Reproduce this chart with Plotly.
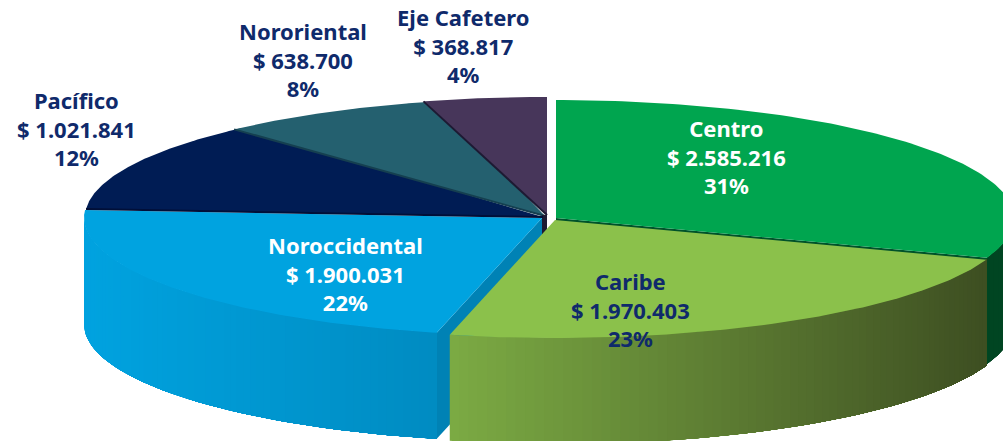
import numpy as np
import plotly.graph_objects as go

regions = ["Centro", "Caribe", "Noroccidental", "Pacífico", "Nororiental", "Eje Cafetero"]
values = [2585216, 1970403, 1900031, 1021841, 638700, 368817]
percents = [31, 23, 22, 12, 8, 4]

top_colors = ["#00A54F", "#8BC14B", "#00A3E0", "#001C54", "#24606F", "#47365A"]
edge_colors = ["#00522A", None, "#0082B5", "#000F38", "#153F50", "#1D1A33"]
text_colors = ["#FFFFFF", "#0F2A6B", "#FFFFFF", "#0F2A6B", "#0F2A6B", "#0F2A6B"]
# pixel-space apex of each (slightly exploded) slice
apexes = [(556, 218), (555, 220), (542, 218), (543, 217), (545, 216), (547, 215)]
# centre x and middle-line y of each label
label_pos = [(726, 156), (630, 309), (345, 273), (76, 128), (303, 59), (463, 45)]

RX, RY, DEPTH = 458, 118, 106
FONT = "Noto Sans"
FONT_SIZE = 22

total = sum(values)
cum = np.cumsum([0] + values) / total * 2 * np.pi
fig = go.Figure()


def arc(apex, t0, t1, n=120):
    t = np.linspace(t0, t1, n)
    return apex[0] + RX * np.sin(t), apex[1] - RY * np.cos(t)


def poly(x, y, color):
    fig.add_trace(go.Scatter(x=list(x), y=list(y), mode="lines", fill="toself", fillcolor=color,
                             line=dict(width=0, color=color), hoverinfo="skip", showlegend=False))


def line(x, y, color, width=2):
    fig.add_trace(go.Scatter(x=list(x), y=list(y), mode="lines", line=dict(width=width, color=color),
                             hoverinfo="skip", showlegend=False))


def hex2rgb(h):
    return np.array([int(h[i:i + 2], 16) for i in (1, 3, 5)], dtype=float)


def side(apex, t0, t1, left_color, right_color, n=70):
    """outer rim, shaded left-to-right; each band runs to the far end so no seams show"""
    edges = np.linspace(t0, t1, n + 1)
    xs = apex[0] + RX * np.sin(edges)
    lo, hi = xs.min(), xs.max()
    for i in range(n):
        xa, ya = arc(apex, edges[i], t1, max(6, 60 - i // 2))
        f = (0.5 * (xs[i] + xs[i + 1]) - lo) / (hi - lo)
        c = hex2rgb(left_color) * (1 - f) + hex2rgb(right_color) * f
        poly(np.r_[xa, xa[::-1]], np.r_[ya, ya[::-1] + DEPTH], "rgb(%d,%d,%d)" % tuple(c))


def cut_face(apex, t, color):
    ex, ey = apex[0] + RX * np.sin(t), apex[1] - RY * np.cos(t)
    poly([apex[0], ex, ex, apex[0]], [apex[1], ey, ey + DEPTH, apex[1] + DEPTH], color)


def top(i, tuck=0.0):
    """top face; tuck runs it slightly under the next slice so no gap shows"""
    x, y = arc(apexes[i], cum[i], cum[i + 1] + tuck)
    poly(np.r_[apexes[i][0], x], np.r_[apexes[i][1], y], top_colors[i])


def start_edge(i):
    ex = apexes[i][0] + RX * np.sin(cum[i])
    ey = apexes[i][1] - RY * np.cos(cum[i])
    line([apexes[i][0], ex], [apexes[i][1], ey], edge_colors[i])


# Centro: rim and cut face sit behind Caribe
side(apexes[0], np.pi / 2, cum[1], "#004522", "#004522", 8)
cut_face(apexes[0], cum[1], edge_colors[0])
top(0)

# back slices
top(3, 0.03)
top(4, 0.03)
top(5)
for i in (4, 5):
    start_edge(i)
# dark sliver under the back slices' apex
poly([apexes[2][0], apexes[5][0], apexes[5][0], apexes[2][0]],
     [apexes[5][1], apexes[5][1], apexes[5][1] + DEPTH, apexes[5][1] + DEPTH], edge_colors[5])

# Noroccidental
cut_face(apexes[2], cum[2], edge_colors[2])
side(apexes[2], 1.5 * np.pi, cum[2], "#00A3E0", "#008CC2")
top(2)
start_edge(3)

# Caribe
side(apexes[1], cum[2], cum[1], "#7CAB44", "#3E4F22")
top(1)

annotations = []
for i, name in enumerate(regions):
    amount = f"{values[i]:,}".replace(",", ".")
    annotations.append(dict(x=label_pos[i][0], y=label_pos[i][1], xref="x", yref="y", showarrow=False,
                            text=f"{name}<br>$ {amount}<br>{percents[i]}%", align="center",
                            font=dict(family=FONT, size=FONT_SIZE, color=text_colors[i], weight=700)))

fig.update_layout(width=1003, height=441, autosize=False, margin=dict(l=0, r=0, t=0, b=0),
                  paper_bgcolor="white", plot_bgcolor="white", showlegend=False,
                  xaxis=dict(range=[0, 1003], visible=False, fixedrange=True),
                  yaxis=dict(range=[441, 0], visible=False, fixedrange=True),
                  annotations=annotations)
fig.write_html("out.html", config=dict(displayModeBar=False),
               post_script="document.body.style.margin='0';")
